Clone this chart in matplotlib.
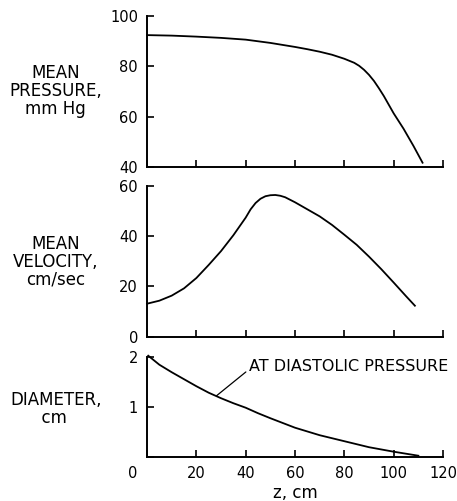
import matplotlib.pyplot as plt
import matplotlib.transforms as mtransforms

# Mean pressure along the artery
z_pressure = [0, 10, 20, 30, 40, 50, 60, 65, 70, 75, 80, 84, 86, 88, 90, 92, 94, 96, 100,
              104, 108, 111.7]
pressure = [92.4, 92.2, 91.8, 91.3, 90.6, 89.3, 87.7, 86.8, 85.8, 84.6, 83.0, 81.4, 80.2,
            78.6, 76.6, 74.2, 71.3, 68.2, 61.3, 55.2, 48.4, 41.7]

# Mean velocity
z_velocity = [0, 5, 10, 15, 20, 25, 30, 35, 40, 42, 44, 46, 48, 50, 52, 54, 56, 60, 65, 70,
              75, 80, 85, 90, 95, 100, 105, 108.6]
velocity = [13.1, 14.3, 16.3, 19.2, 23.3, 28.5, 34.0, 40.3, 47.3, 50.6, 53.1, 54.8, 55.8,
            56.2, 56.3, 56.0, 55.4, 53.4, 50.6, 47.8, 44.4, 40.5, 36.5, 31.8, 26.8, 21.5,
            16.1, 12.3]

# Diameter at diastolic pressure
z_diameter = [0.5, 5, 10, 15, 20, 25, 30, 35, 40, 45, 50, 60, 70, 80, 90, 100, 110]
diameter = [2.02, 1.84, 1.69, 1.55, 1.41, 1.28, 1.17, 1.07, 0.98, 0.87, 0.77, 0.58, 0.43,
            0.31, 0.19, 0.10, 0.02]

x_ticks = [0, 20, 40, 60, 80, 100, 120]
x_labels = ['0', '20', '40', '60', '80', '100', '120']

fig = plt.figure(figsize=(4.57, 5.01), dpi=100)
left, width = 0.3217, 0.6477
ax1 = fig.add_axes([left, 0.6667, width, 0.3014])
ax2 = fig.add_axes([left, 0.3280, width, 0.3014])
ax3 = fig.add_axes([left, 0.0884, width, 0.1996])

lw = 1.3
ax1.plot(z_pressure, pressure, color='black', lw=lw, clip_on=False)
ax2.plot(z_velocity, velocity, color='black', lw=lw, clip_on=False)
ax3.plot(z_diameter, diameter, color='black', lw=lw, clip_on=False)

ax1.set_ylim(40, 100)
ax1.set_yticks([40, 60, 80, 100])
ax2.set_ylim(0, 60)
ax2.set_yticks([0, 20, 40, 60])
ax3.set_ylim(0, 2)
ax3.set_yticks([0, 1, 2])
ax3.set_yticklabels(['', '1', '2'])

for ax in (ax1, ax2, ax3):
    ax.set_xlim(0, 120)
    ax.set_xticks(x_ticks)
    for side in ('top', 'right'):
        ax.spines[side].set_visible(False)
    for side in ('left', 'bottom'):
        ax.spines[side].set_linewidth(1.4)
    ax.tick_params(direction='in', length=5, width=1.2, labelsize=10.5, pad=6.5)
    ax.tick_params(axis='x', pad=7)
    ax.patch.set_alpha(0)

ax1.set_xticklabels([])
ax2.set_xticklabels([])
ax3.set_xticklabels(x_labels)
# the "0" under the origin sits a little to the left
zero = ax3.get_xticklabels()[0]
zero.set_transform(zero.get_transform() + mtransforms.ScaledTranslation(-0.14, 0, fig.dpi_scale_trans))
ax3.set_xlabel('z, cm', fontsize=12, labelpad=2)

ax3.annotate('AT DIASTOLIC PRESSURE', xy=(28.2, 1.22), xytext=(41.2, 1.8),
             fontsize=11.5, ha='left', va='center', annotation_clip=False,
             arrowprops=dict(arrowstyle='-', color='black', lw=0.9, shrinkA=0, shrinkB=0,
                             relpos=(0, 0.3)))

fig.text(0.122, 0.818, 'MEAN\nPRESSURE,\nmm Hg', fontsize=12, ha='center', va='center',
         multialignment='center', linespacing=1.0)
fig.text(0.122, 0.478, 'MEAN\nVELOCITY,\ncm/sec', fontsize=12, ha='center', va='center',
         multialignment='center', linespacing=1.0)
fig.text(0.122, 0.183, 'DIAMETER,\n      cm', fontsize=12, ha='center', va='center',
         multialignment='left', linespacing=1.0)

fig.savefig('out.png', dpi=100)
